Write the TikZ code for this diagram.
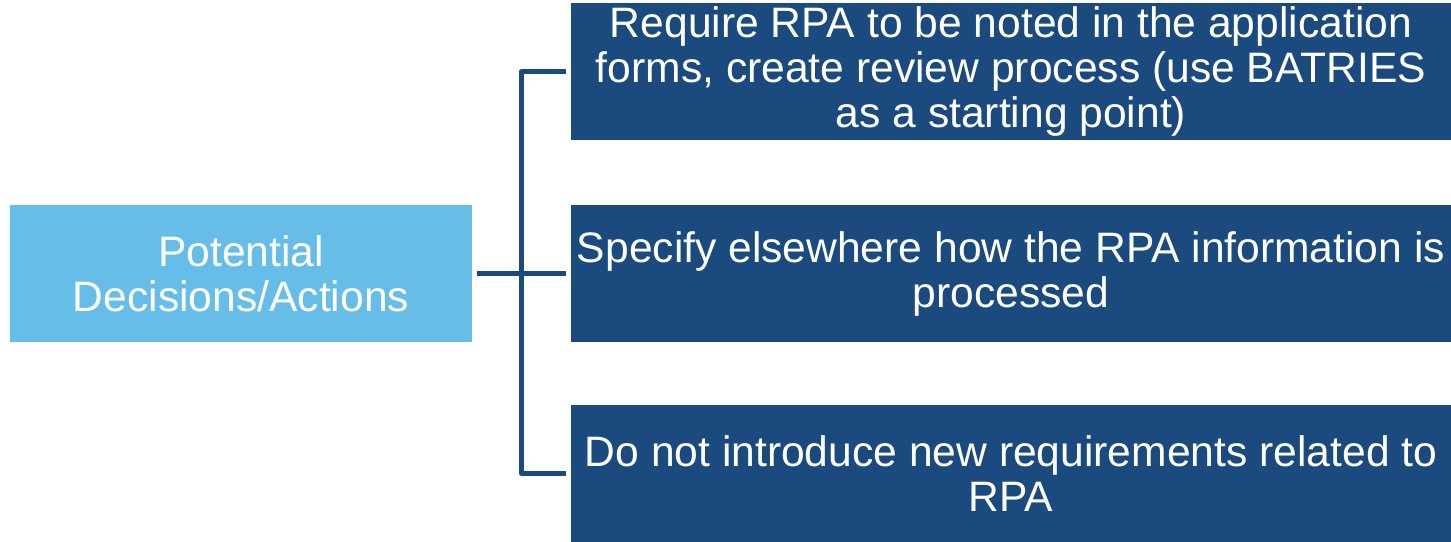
\documentclass[tikz,border=0pt]{standalone}
\usepackage{fontspec}
\setmainfont{Liberation Sans}
\definecolor{darkblue}{HTML}{1B4A7F}
\definecolor{lightblue}{HTML}{65BDE8}

\begin{document}
\begin{tikzpicture}[x=1pt,y=-1pt,
    box/.style={fill=darkblue,text=white,minimum width=880pt,minimum height=137pt,inner sep=0pt,align=center,font=\fontsize{42.6}{45}\selectfont},
    rootbox/.style={box,fill=lightblue,minimum width=462pt},
    link/.style={draw=darkblue,line width=4.6pt,line join=round}]
    \useasboundingbox (0,0) rectangle (1451,541);
    \node[rootbox] (root) at (241,273.5) {Potential\\Decisions/Actions};
    \node[box] (req) at (1011,71.5) {Require RPA to be noted in the application\\forms, create review process (use BATRIES\\as a starting point)};
    \node[box] (spec) at (1011,273.5) {Specify elsewhere how the RPA information is\\processed};
    \node[box] (none) at (1011,473.5) {Do not introduce new requirements related to\\RPA};
    \coordinate (spine) at (521.5,273.5);
    \draw[link,shorten <=5pt] (root.east) -- (spine);
    \draw[link,shorten <=5pt,shorten >=5pt] (req.west) -| (spine) |- (none.west);
    \draw[link,shorten >=5pt] (spine) -- (spec.west);
\end{tikzpicture}
\end{document}
